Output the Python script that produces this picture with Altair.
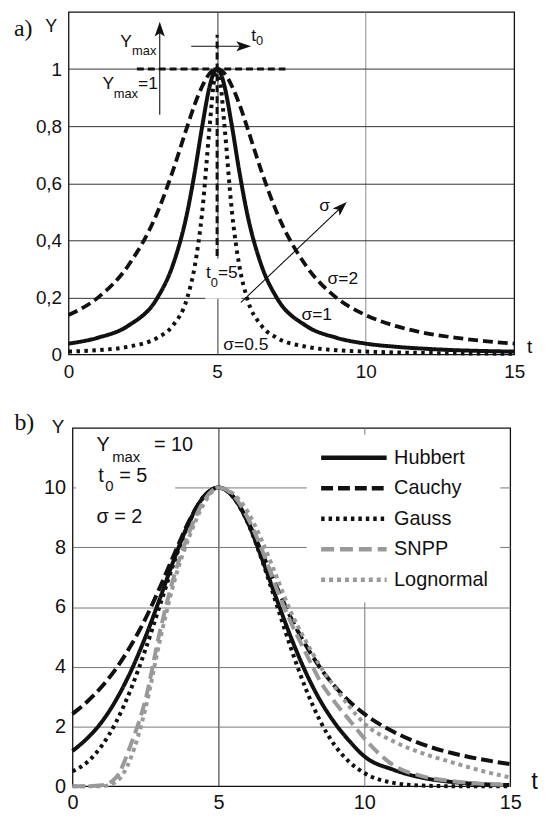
import altair as alt
import pandas as pd

# ---------------- panel a : values ----------------
ta = [0, 1, 2, 3, 3.5, 4, 4.25, 4.5, 4.75, 4.9, 5, 5.1, 5.25, 5.5, 5.75, 6,
      6.5, 7, 8, 9, 10, 11, 12, 13, 14, 15]
a_sig05 = [0.010, 0.015, 0.027, 0.059, 0.10, 0.20, 0.31, 0.50, 0.80, 0.96, 1.0,
           0.96, 0.80, 0.50, 0.31, 0.20, 0.10, 0.059, 0.027, 0.015, 0.010,
           0.007, 0.005, 0.004, 0.003, 0.0025]
a_sig1 = [0.038, 0.059, 0.10, 0.20, 0.31, 0.50, 0.64, 0.80, 0.94, 0.99, 1.0,
          0.99, 0.94, 0.80, 0.64, 0.50, 0.31, 0.20, 0.10, 0.059, 0.038,
          0.027, 0.020, 0.015, 0.012, 0.010]
a_sig2 = [0.138, 0.20, 0.31, 0.50, 0.64, 0.80, 0.877, 0.94, 0.985, 0.998, 1.0,
          0.998, 0.985, 0.94, 0.877, 0.80, 0.64, 0.50, 0.31, 0.20, 0.138,
          0.10, 0.075, 0.059, 0.047, 0.038]

# ---------------- panel b : values ----------------
tb = [0, 0.5, 1, 1.5, 2, 2.5, 3, 3.5, 4, 4.5, 5, 5.5, 6, 6.5, 7, 7.5, 8, 8.5,
      9, 9.5, 10, 11, 12, 13, 14, 15]
hubbert = [1.18, 1.6, 2.15, 2.9, 3.85, 5.0, 6.3, 7.65, 8.85, 9.7, 10, 9.7, 8.85,
           7.6, 6.25, 4.95, 3.8, 2.85, 2.1, 1.5, 1.0, 0.55, 0.28, 0.14, 0.07, 0.035]
cauchy = [2.42, 2.83, 3.33, 3.95, 4.71, 5.61, 6.67, 7.80, 8.89, 9.70, 10, 9.70,
          8.89, 7.80, 6.67, 5.61, 4.71, 3.95, 3.33, 2.83, 2.42, 1.82, 1.40, 1.11,
          0.90, 0.74]
gauss = [0.5, 0.8, 1.35, 2.16, 3.25, 4.58, 6.07, 7.55, 8.83, 9.69, 10, 9.69, 8.83,
         7.55, 6.07, 4.58, 3.25, 2.16, 1.35, 0.8, 0.44, 0.11, 0.02, 0.0, 0.0, 0.0]
snpp = [0.0, 0.0, 0.03, 0.3, 1.4, 2.9, 5.2, 7.1, 8.5, 9.55, 10, 9.75, 9.0, 7.9,
        6.6, 5.45, 4.45, 3.5, 2.8, 2.2, 1.6, 0.7, 0.33, 0.17, 0.08, 0.04]
lognormal = [0.0, 0.0, 0.0, 0.15, 0.95, 2.6, 4.9, 6.9, 8.35, 9.45, 10, 9.8, 9.2,
             8.2, 7.0, 5.8, 4.85, 4.0, 3.3, 2.65, 2.1, 1.5, 1.1, 0.8, 0.52, 0.29]
names_b = ["Hubbert", "Cauchy", "Gauss", "SNPP", "Lognormal"]

x_ticks = [0, 5, 10, 15]
ya_ticks = [0, 0.2, 0.4, 0.6, 0.8, 1]
yb_ticks = [0, 2, 4, 6, 8, 10]

# ---------------- styles ----------------
FONT = "Liberation Sans"
INK = "#111111"
ARROW = "M0,-1L0.6,0.75L0,0.35L-0.6,0.75Z"

xa_scale = alt.Scale(domain=[0, 15], nice=False, zero=False)
ya_scale = alt.Scale(domain=[0, 1.2], nice=False, zero=False)
xb_scale = alt.Scale(domain=[0, 15], nice=False, zero=False)
yb_scale = alt.Scale(domain=[0, 12], nice=False, zero=False)

common_axis = dict(domain=False, ticks=False, tickSize=0, labelFont=FONT,
                   labelColor=INK, labelFlush=False, titleFont=FONT,
                   titleFontWeight="normal", titleColor=INK, titleAngle=0,
                   titleAlign="center", titleBaseline="middle", gridWidth=1)

axis_xa = alt.Axis(values=x_ticks, labelFontSize=19, labelPadding=8,
                   gridColor={"condition": {"test": "datum.value == 10", "value": "#8a8a8a"}, "value": "#333333"},
                   gridOpacity={"condition": {"test": "datum.value == 0 || datum.value == 15", "value": 0}, "value": 1},
                   title="t", titleFontSize=19, titleX=464, titleY=-8, **common_axis)
axis_ya = alt.Axis(values=ya_ticks, labelFontSize=19, labelPadding=7,
                   labelExpr="replace(format(datum.value, '~g'), '.', ',')",
                   gridColor="#333333",
                   gridOpacity={"condition": {"test": "datum.value == 0", "value": 0}, "value": 1},
                   title="Y", titleFontSize=18, titleX=-18, titleY=15, **common_axis)
axis_xb = alt.Axis(values=x_ticks, labelFontSize=20, labelPadding=6,
                   gridColor={"condition": {"test": "datum.value == 5", "value": "#222222"}, "value": "#777777"},
                   gridOpacity={"condition": {"test": "datum.value == 0 || datum.value == 15", "value": 0}, "value": 1},
                   title="t", titleFontSize=24, titleX=465, titleY=-5, **common_axis)
axis_yb = alt.Axis(values=yb_ticks, labelFontSize=20, labelPadding=7,
                   gridColor="#777777",
                   gridOpacity={"condition": {"test": "datum.value == 0", "value": 0}, "value": 1},
                   title="Y", titleFontSize=19, titleX=-15, titleY=-1, **common_axis)

XA = alt.X("t:Q", scale=xa_scale, axis=axis_xa)
YA = alt.Y("Y:Q", scale=ya_scale, axis=axis_ya)
XB = alt.X("t:Q", scale=xb_scale, axis=axis_xb)
YB = alt.Y("Y:Q", scale=yb_scale, axis=axis_yb)


def curve_a(vals, dash, width):
    df = pd.DataFrame({"t": ta, "Y": vals})
    return alt.Chart(df).mark_line(color=INK, strokeWidth=width, strokeDash=dash,
                                   interpolate="monotone").encode(x=XA, y=YA)


def seg(df, X, Y, width, dash):
    return alt.Chart(pd.DataFrame(df)).mark_rule(color=INK, strokeWidth=width, strokeDash=dash).encode(
        x=X, y=Y, x2=alt.X2("t2:Q"), y2=alt.Y2("Y2:Q"))


def heads(df, X, Y, size):
    return alt.Chart(pd.DataFrame(df)).mark_point(shape=ARROW, filled=True, color=INK, opacity=1,
                                                  strokeWidth=0, size=size).encode(
        x=X, y=Y, angle=alt.Angle("ang:Q", scale=None))


def texts(df, X, Y, size):
    return alt.Chart(pd.DataFrame(df)).mark_text(align="left", baseline="middle", font=FONT,
                                                 fontSize=size, color=INK).encode(
        x=X, y=Y, text="s:N")


# ---------------- panel a ----------------
white_a = alt.Chart(pd.DataFrame({"t": [4.6], "t2": [5.82], "Y": [0.195], "Y2": [0.335]})).mark_rect(
    color="white").encode(x=XA, x2=alt.X2("t2:Q"), y=YA, y2=alt.Y2("Y2:Q"))

l2 = curve_a(a_sig2, [10, 5], 3.8)
l1 = curve_a(a_sig1, [1, 0], 4)
l05 = curve_a(a_sig05, [3.5, 4.5], 4)

dash_h = seg({"t": [2.3], "t2": [7.3], "Y": [1.0], "Y2": [1.0]}, XA, YA, 3, [7, 4])
dash_v = seg({"t": [5.0], "t2": [5.0], "Y": [0.345], "Y2": [1.12]}, XA, YA, 3, [7, 4])
thin = seg({"t": [3.07, 4.13, 5.8], "t2": [3.07, 5.86, 9.16],
            "Y": [0.84, 1.08, 0.182], "Y2": [1.136, 1.08, 0.514]}, XA, YA, 1.1, [1, 0])
heads_a = heads({"t": [3.07, 5.86, 9.16], "Y": [1.136, 1.08, 0.514], "ang": [0, 90, 46]}, XA, YA, 289)

txt_a = texts({"s": ["Y", "Y", "=1", "t", "t", "=5", "σ", "σ=2", "σ=1", "σ=0.5"],
               "t": [1.74, 1.14, 2.34, 6.15, 4.63, 5.03, 8.44, 8.72, 7.84, 5.21],
               "Y": [1.094, 0.946, 0.946, 1.117, 0.285, 0.285, 0.52, 0.265, 0.138, 0.034]},
              XA, YA, 17.5)
sub_a = texts({"s": ["max", "max", "0", "0"],
               "t": [2.14, 1.52, 6.31, 4.79],
               "Y": [1.062, 0.911, 1.100, 0.25]}, XA, YA, 13)

lab_a = alt.Chart(pd.DataFrame({"s": ["a)"]})).mark_text(
    align="left", baseline="middle", font="Liberation Serif", fontSize=24, color=INK).encode(
    x=alt.value(-55), y=alt.value(17), text="s:N")

panel_a = alt.layer(white_a, l2, l1, l05, dash_h, dash_v, thin, heads_a, txt_a, sub_a, lab_a).properties(
    width=449, height=345)

# ---------------- panel b ----------------
rows = []
for nm, vals in zip(names_b, [hubbert, cauchy, gauss, snpp, lognormal]):
    for t, v in zip(tb, vals):
        rows.append({"t": t, "Y": v, "curve": nm})
dfb = pd.DataFrame(rows)

leg = alt.Legend(orient="none", legendX=236, legendY=7, title=None, symbolType="stroke",
                 symbolSize=4356, symbolStrokeWidth=4.5, clipHeight=22, rowPadding=8.75,
                 labelFont=FONT, labelFontSize=20, labelColor=INK, labelOffset=5,
                 padding=12, fillColor="white")

lines_b = alt.Chart(dfb).mark_line(strokeWidth=4, interpolate="monotone").encode(
    x=XB, y=YB,
    color=alt.Color("curve:N", scale=alt.Scale(domain=names_b,
                    range=[INK, INK, INK, "#999999", "#999999"]), legend=leg),
    strokeDash=alt.StrokeDash("curve:N", scale=alt.Scale(domain=names_b,
                              range=[[1, 0], [12, 5], [3.5, 4], [13, 6], [4, 4]]), legend=leg),
)

white_b = alt.Chart(pd.DataFrame({"t": [0.12], "t2": [3.52], "Y": [8.55], "Y2": [11.95]})).mark_rect(
    color="white").encode(x=XB, x2=alt.X2("t2:Q"), y=YB, y2=alt.Y2("Y2:Q"))

txt_b = texts({"s": ["Y", "= 10", "t", "= 5", "σ = 2"],
               "t": [0.82, 2.79, 0.88, 1.6, 0.82],
               "Y": [11.42, 11.42, 10.39, 10.39, 9.02]}, XB, YB, 20)
sub_b = texts({"s": ["max", "0"], "t": [1.36, 1.12], "Y": [11.03, 10.05]}, XB, YB, 15)

lab_b = alt.Chart(pd.DataFrame({"s": ["b)"]})).mark_text(
    align="left", baseline="middle", font="Liberation Serif", fontSize=24, color=INK).encode(
    x=alt.value(-58.5), y=alt.value(-5), text="s:N")

panel_b = alt.layer(white_b, lines_b, txt_b, sub_b, lab_b).properties(width=441, height=361)

chart = alt.vconcat(panel_a, panel_b, spacing=74, center=True, bounds="flush").resolve_scale(
    color="independent", strokeDash="independent"
).properties(
    padding={"left": 5, "top": 0, "right": 0, "bottom": 0}
).configure(font=FONT).configure_view(stroke=INK, strokeWidth=1.3)

chart.save("out.html", embed_options={"renderer": "svg", "actions": False})
